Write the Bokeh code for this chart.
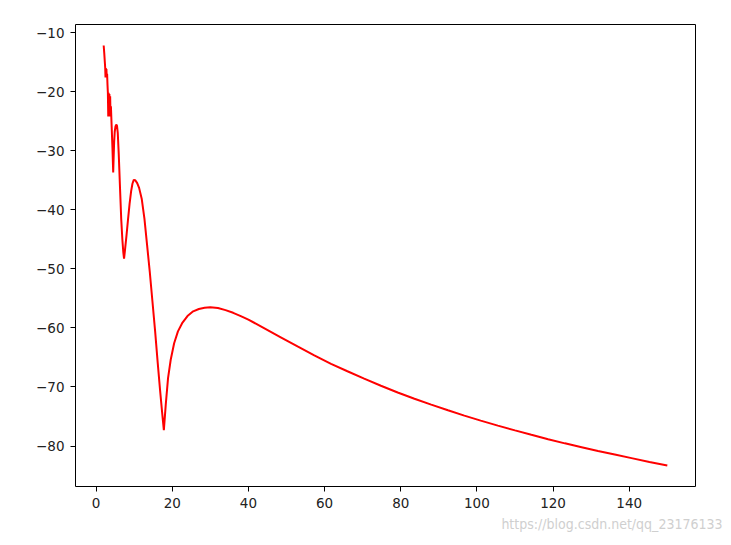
from bokeh.plotting import figure
from bokeh.models import Range1d, FixedTicker, Title
from bokeh.embed import file_html
from bokeh.resources import INLINE

# ---- data ----
x_vals = [2.0, 2.15, 2.3, 2.4, 2.48, 2.56, 2.64, 2.72, 2.8, 2.9, 3.0, 3.1, 3.2, 3.3,
          3.4, 3.5, 3.6, 3.7, 3.8, 3.9, 4.1, 4.3, 4.5, 4.6, 4.75, 4.9, 5.1, 5.3, 5.5,
          5.7, 5.95, 6.3, 6.6, 6.9, 7.15, 7.35, 7.6, 8.0, 8.4, 8.8, 9.2, 9.55, 9.9,
          10.3, 10.8, 11.3, 12.0, 12.7, 13.4, 14.1, 14.8, 15.5, 16.2, 16.8, 17.3,
          17.8, 18.3, 18.9, 19.6, 20.5, 21.5, 22.7, 24.0, 25.5, 27.0, 28.5, 30.0,
          32.0, 34.0, 36.0, 38.0, 40.0, 44.1, 48.5, 52.9, 57.3, 61.7, 66.0, 70.4,
          74.8, 79.2, 83.6, 88.0, 92.4, 96.7, 101.0, 105.5, 110.0, 114.3, 118.7,
          123.1, 127.5, 131.8, 136.2, 140.6, 145.3, 150.0]
y_vals = [-12.2, -13.5, -15.0, -16.0, -17.6, -16.0, -17.6, -16.2, -17.6, -17.0,
          -18.8, -20.2, -24.2, -20.2, -24.2, -20.4, -24.2, -20.8, -24.2, -22.5,
          -26.0, -29.5, -33.7, -31.5, -28.5, -26.8, -25.9, -25.6, -25.8,
          -27.0, -30.5, -36.5, -41.5, -45.0, -47.2, -48.3, -46.8, -44.3, -41.6,
          -39.0, -36.9, -35.6, -34.95, -35.0, -35.5, -36.3, -38.2, -41.5, -46.0,
          -50.5, -55.5, -60.5, -66.0, -70.5, -74.0, -77.3, -73.0, -68.5, -65.4,
          -62.6, -60.6, -59.1, -58.0, -57.2, -56.8, -56.6, -56.5, -56.65, -57.0,
          -57.45, -58.0, -58.6, -60.05, -61.6, -63.15, -64.65, -66.1, -67.35,
          -68.6, -69.8, -70.95, -72.0, -73.0, -73.95, -74.85, -75.7, -76.55,
          -77.35, -78.1, -78.85, -79.55, -80.2, -80.85, -81.45, -82.05, -82.7,
          -83.3]
x_ticks = [0, 20, 40, 60, 80, 100, 120, 140]
y_ticks = [-80, -70, -60, -50, -40, -30, -20, -10]
watermark = "https://blog.csdn.net/qq_23176133"

# matplotlib-like 5% margins
xpad = 0.05 * (max(x_vals) - min(x_vals))
ypad = 0.05 * (max(y_vals) - min(y_vals))

p = figure(width=723, height=537, output_backend="svg", toolbar_location=None,
           x_range=Range1d(min(x_vals) - xpad, max(x_vals) + xpad),
           y_range=Range1d(min(y_vals) - ypad, max(y_vals) + ypad),
           min_border_left=75, min_border_right=28, min_border_top=24,
           min_border_bottom=51)
p.background_fill_color = "white"
p.border_fill_color = "white"
p.outline_line_color = "black"
p.outline_line_width = 1
p.grid.visible = False

p.line(x_vals, y_vals, line_color="red", line_width=2)

p.xaxis.ticker = FixedTicker(ticks=x_ticks)
p.yaxis.ticker = FixedTicker(ticks=y_ticks)
p.yaxis.major_label_overrides = {t: ("\u2212" + str(abs(t)) if t < 0 else str(t)) for t in y_ticks}

for ax in (p.xaxis, p.yaxis):
    ax.axis_line_color = None
    ax.minor_tick_line_color = None
    ax.major_tick_in = 0
    ax.major_tick_out = 5
    ax.major_tick_line_color = "black"
    ax.major_label_text_font = "DejaVu Sans"
    ax.major_label_text_font_size = "13.5px"
    ax.major_label_text_color = "#222222"
p.xaxis.major_label_standoff = 6
p.yaxis.major_label_standoff = 6

p.add_layout(Title(text=watermark, align="right", text_color="#cfcfcf",
                   text_font="DejaVu Sans Condensed", text_font_size="14px",
                   text_font_style="normal", offset=-27, standoff=6), "below")

open("out.html", "w").write(file_html(p, INLINE))
